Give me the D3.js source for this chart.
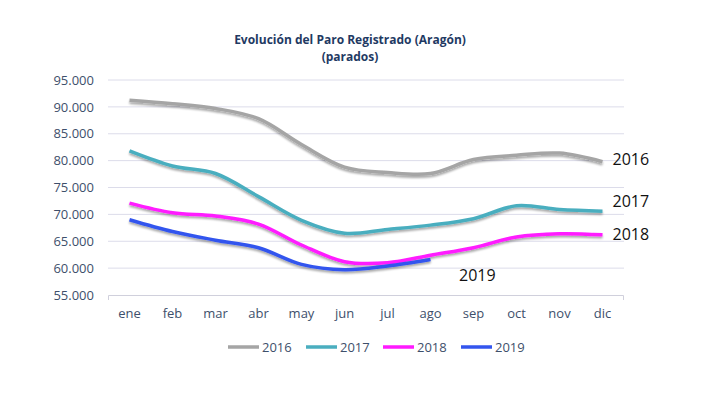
<!DOCTYPE html>
<html>
<head>
<meta charset="utf-8">
<script src="https://cdn.jsdelivr.net/npm/d3@7"></script>
<style>
  body { margin: 0; background: #fff; }
  svg { display: block; font-family: "Open Sans", "Liberation Sans", sans-serif; }
</style>
</head>
<body>
<svg id="chart"></svg>
<script>
// Data
const months = ["ene", "feb", "mar", "abr", "may", "jun", "jul", "ago", "sep", "oct", "nov", "dic"];
const years = ["2016", "2017", "2018", "2019"];
const paro2016 = [91250, 90600, 89700, 87800, 83000, 78800, 77800, 77600, 80200, 81000, 81400, 79800];
const paro2017 = [81800, 79000, 77600, 73300, 68900, 66500, 67200, 68000, 69200, 71600, 70900, 70600];
const paro2018 = [72100, 70300, 69700, 68200, 64300, 61200, 61000, 62400, 63800, 65800, 66400, 66200];
const paro2019 = [69000, 66800, 65200, 63800, 60700, 59700, 60400, 61600];
const yTicks = [55000, 60000, 65000, 70000, 75000, 80000, 85000, 90000, 95000];
const colors = ["#a5a5a5", "#4aaebf", "#ff1aff", "#3355ee"];

const series = years.map((y, i) => ({
    year: y,
    values: [paro2016, paro2017, paro2018, paro2019][i],
    color: colors[i]
}));

const W = 720, H = 399;
const margin = { top: 80, right: 96, bottom: 104, left: 108 };
const width = W - margin.left - margin.right;
const height = H - margin.top - margin.bottom;

const svg = d3.select('#chart').attr('width', W).attr('height', H);

// Drop shadow like the original
const defs = svg.append('defs');
const f = defs.append('filter').attr('id', 'shadow')
    .attr('x', '-5%').attr('y', '-20%').attr('width', '110%').attr('height', '160%');
f.append('feGaussianBlur').attr('in', 'SourceAlpha').attr('stdDeviation', 1.2).attr('result', 'b');
f.append('feOffset').attr('dy', 2).attr('result', 'o');
f.append('feComponentTransfer').append('feFuncA').attr('type', 'linear').attr('slope', 0.35);
const m = f.append('feMerge');
m.append('feMergeNode');
m.append('feMergeNode').attr('in', 'SourceGraphic');

// Title
svg.append('text').attr('x', 350).attr('y', 44).attr('text-anchor', 'middle')
    .attr('font-size', 12).attr('font-weight', 'bold').attr('fill', '#1f3a63')
    .text('Evolución del Paro Registrado (Aragón)');
svg.append('text').attr('x', 350).attr('y', 61).attr('text-anchor', 'middle')
    .attr('font-size', 12).attr('font-weight', 'bold').attr('fill', '#1f3a63')
    .text('(parados)');

const g = svg.append('g').attr('transform', `translate(${margin.left},${margin.top})`);

const x = d3.scaleBand().domain(months).range([0, width]);
const y = d3.scaleLinear().domain([55000, 95000]).range([height, 0]);

// Gridlines
g.append('g').selectAll('line').data(yTicks.slice(1)).join('line')
    .attr('x1', 0).attr('x2', width)
    .attr('y1', d => y(d)).attr('y2', d => y(d))
    .attr('stroke', '#dcdcea').attr('stroke-width', 1);

// Y axis labels
const yAxis = g.append('g').call(d3.axisLeft(y).tickValues(yTicks).tickSize(0).tickPadding(14)
    .tickFormat(d => d3.format(',')(d).replace(/,/g, '.')));
yAxis.select('.domain').remove();
yAxis.selectAll('text').attr('font-size', 13).attr('fill', '#3e4f6b')
    .attr('font-family', '"Open Sans", "Liberation Sans", sans-serif');

// X axis
const xAxis = g.append('g').attr('transform', `translate(0,${height})`)
    .call(d3.axisBottom(x).tickSize(0).tickPadding(14));
xAxis.select('.domain').attr('stroke', '#d0d0dc').attr('d', `M0.5,5V0.5H${width - 0.5}V5`);
xAxis.selectAll('text').attr('font-size', 13).attr('fill', '#3e4f6b')
    .attr('font-family', '"Open Sans", "Liberation Sans", sans-serif');

// Lines
const line = d3.line()
    .x((d, i) => x(months[i]) + x.bandwidth() / 2)
    .y(d => y(d))
    .curve(d3.curveCatmullRom.alpha(0.5));

g.append('g').selectAll('path').data(series).join('path')
    .attr('d', d => line(d.values))
    .attr('fill', 'none')
    .attr('stroke', d => d.color)
    .attr('stroke-width', 3.5)
    .attr('filter', 'url(#shadow)');

// Series labels next to the lines
const endLabels = [
    { year: "2016", x: x("dic") + x.bandwidth() / 2 + 10, y: y(80300) },
    { year: "2017", x: x("dic") + x.bandwidth() / 2 + 10, y: y(72500) },
    { year: "2018", x: x("dic") + x.bandwidth() / 2 + 10, y: y(66200) },
    { year: "2019", x: x("sep") + 7, y: y(58700) }
];
g.append('g').selectAll('text').data(endLabels).join('text')
    .attr('x', d => d.x).attr('y', d => d.y).attr('dy', '0.35em')
    .attr('font-size', 16).attr('fill', '#111')
    .attr('font-family', '"Open Sans", sans-serif')
    .text(d => d.year);

// Legend
const legendX = [226, 304, 381, 459];
const legend = svg.append('g').attr('transform', 'translate(0,347)');
const items = legend.selectAll('g').data(series).join('g')
    .attr('transform', (d, i) => `translate(${legendX[i]},0)`);
items.append('line').attr('x1', 2).attr('x2', 33).attr('y1', 0).attr('y2', 0)
    .attr('stroke', d => d.color).attr('stroke-width', 3.5);
items.append('text').attr('x', 36).attr('dy', '0.35em')
    .attr('font-size', 13).attr('fill', '#3e4f6b')
    .text(d => d.year);
</script>
</body>
</html>
